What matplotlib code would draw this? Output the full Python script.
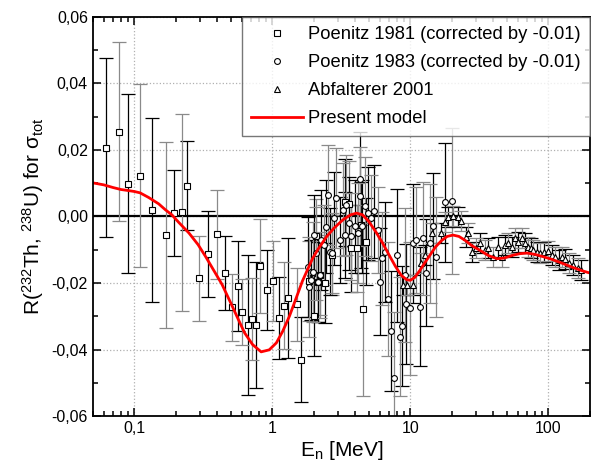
import numpy as np
import matplotlib.pyplot as plt
from matplotlib.ticker import FuncFormatter, LogLocator, MultipleLocator, NullFormatter

plt.rcParams['font.family'] = ['Liberation Sans', 'DejaVu Sans']
plt.rcParams['mathtext.fontset'] = 'custom'
plt.rcParams['mathtext.rm'] = 'Liberation Sans'
plt.rcParams['mathtext.it'] = 'Liberation Sans:italic'

# Poenitz 1981 (squares)
p81_e = [0.062, 0.077, 0.090, 0.110, 0.134, 0.170, 0.194, 0.220, 0.241, 0.293,
         0.344, 0.396, 0.452, 0.509, 0.563, 0.605, 0.665, 0.707, 0.765, 0.814,
         0.915, 1.01, 1.12, 1.22, 1.31, 1.52, 1.61, 1.86, 2.01, 2.08,
         2.13, 2.20, 2.39, 2.73, 3.34, 3.58, 3.73, 4.13, 4.37, 4.54, 4.74]
p81_r = [0.0207, 0.0255, 0.0099, 0.0123, 0.0019, -0.0056, 0.0010, 0.0013, 0.0092, -0.0186,
         -0.0113, -0.0054, -0.0170, -0.0273, -0.0208, -0.0287, -0.0326, -0.0309, -0.0326, -0.0149,
         -0.0220, -0.0193, -0.0306, -0.0268, -0.0245, -0.0264, -0.0431, -0.0193, -0.0300, -0.0059,
         -0.0196, -0.0176, -0.0199, -0.0116, 0.0042, 0.0038, -0.0096, -0.0096, -0.0026, -0.0279, -0.0076]
p81_err = [0.027, 0.027, 0.027, 0.0275, 0.0277, 0.028, 0.013, 0.0296, 0.0134, 0.0127,
           0.013, 0.0135, 0.011, 0.010, 0.0135, 0.010, 0.021, 0.0123, 0.019, 0.014,
           0.012, 0.012, 0.0123, 0.013, 0.018, 0.011, 0.0128, 0.012, 0.012, 0.011,
           0.012, 0.012, 0.012, 0.012, 0.013, 0.013, 0.013, 0.013, 0.013, 0.026, 0.013]

# Poenitz 1983 (circles)
p83_e = [1.81, 1.84, 1.91, 1.96, 2.02, 2.08, 2.14, 2.20, 2.26, 2.35,
         2.46, 2.55, 2.60, 2.72, 2.80, 2.90, 3.07, 3.25, 3.34, 3.43,
         3.57, 3.73, 3.97, 4.17, 4.29, 4.35, 4.46, 4.67, 4.95, 5.23,
         5.42, 5.83, 6.00, 6.27, 6.53, 6.89, 7.29, 7.62, 8.00, 8.40,
         8.77, 9.12, 9.38, 9.90, 10.45, 11.0, 11.7, 12.3, 13.0, 13.8,
         14.6, 15.4, 17.8, 20.1]
p83_r = [-0.0151, -0.0211, -0.0191, -0.0166, -0.0056, -0.0111, -0.0196, -0.0176, -0.0071, -0.0086,
         -0.0031, 0.0065, -0.0106, -0.0111, -0.0005, 0.0055, -0.0071, 0.0020, -0.0056, 0.0035,
         -0.0020, -0.0060, -0.0030, -0.0050, 0.0113, 0.0060, -0.0030, 0.0030, 0.0010, -0.0005,
         0.0015, -0.0040, -0.0196, -0.0126, -0.0106, -0.0248, -0.0344, -0.0487, -0.0116, -0.0361,
         -0.0329, -0.0176, -0.0263, -0.0276, -0.0081, -0.0071, -0.0271, -0.0066, -0.0169, -0.0081,
         -0.0029, -0.0121, 0.0042, 0.0047]
p83_err = [0.015, 0.015, 0.012, 0.015, 0.012, 0.014, 0.012, 0.013, 0.015, 0.012,
           0.014, 0.015, 0.013, 0.012, 0.014, 0.015, 0.013, 0.014, 0.013, 0.015,
           0.014, 0.013, 0.014, 0.015, 0.014, 0.015, 0.014, 0.015, 0.014, 0.013,
           0.014, 0.013, 0.016, 0.014, 0.015, 0.017, 0.018, 0.020, 0.020, 0.018,
           0.018, 0.020, 0.018, 0.020, 0.018, 0.016, 0.018, 0.017, 0.016, 0.018,
           0.016, 0.018, 0.018, 0.022]

# Abfalterer 2001 (triangles)
a01_e = [8.8, 9.4, 10.4, 12.0, 12.7, 14.4, 16.6, 17.8, 18.9, 20.4,
         22.2, 23.5, 25.2, 26.3, 27.9, 30.0, 32.0, 35.0, 36.8, 40.0,
         43.0, 46.0, 48.6, 51.4, 54.5, 57.6, 60.8, 64.4, 68.0, 71.8,
         75.0, 78.0, 82.5, 87.4, 93.0, 100, 106, 112, 119, 126,
         132, 142, 152, 163, 172]
a01_r = [-0.0206, -0.0206, -0.0206, -0.0141, -0.0116, -0.0050, -0.0050, -0.0016, -0.0001, 0.0002,
         -0.0001, -0.0013, -0.0061, -0.0049, -0.0106, -0.0095, -0.0081, -0.0101, -0.0096, -0.0121,
         -0.0091, -0.0121, -0.0086, -0.0081, -0.0091, -0.0066, -0.0076, -0.0064, -0.0081, -0.0091,
         -0.0095, -0.0101, -0.0106, -0.0111, -0.0108, -0.0103, -0.0116, -0.0121, -0.0131, -0.0121,
         -0.0129, -0.0141, -0.0146, -0.0156, -0.0161]
a01_err = [0.0030] * len(a01_e)

# Present model
model_e = [0.05, 0.06, 0.07, 0.08, 0.09, 0.10, 0.11, 0.127, 0.15, 0.168,
           0.187, 0.21, 0.249, 0.29, 0.329, 0.38, 0.433, 0.514, 0.575, 0.63,
           0.719, 0.83, 0.95, 1.07, 1.19, 1.33, 1.49, 1.65, 1.80, 1.96,
           2.15, 2.46, 2.8, 3.25, 3.7, 4.08, 4.5, 5.0, 5.6, 6.3,
           7.0, 7.8, 8.6, 9.4, 10.0, 10.8, 11.7, 12.8, 13.8, 15.2,
           16.8, 18.5, 20.4, 22.5, 25.0, 28.0, 32.0, 37.0, 42.6, 48.0,
           55.0, 62.0, 70.0, 80.0, 92.0, 108.0, 125.0, 150.0, 175.0, 200.0]
model_r = [0.0101, 0.0095, 0.0087, 0.0081, 0.0078, 0.0075, 0.0071, 0.0057, 0.0038, 0.0020,
           0.0005, -0.0018, -0.0050, -0.0085, -0.0121, -0.0165, -0.0205, -0.0271, -0.0315, -0.0350,
           -0.0385, -0.0407, -0.0401, -0.0380, -0.0345, -0.0300, -0.0245, -0.0195, -0.0160, -0.0126,
           -0.0098, -0.0062, -0.0035, -0.0010, 0.0005, 0.0010, 0.0005, -0.0015, -0.0045, -0.0080,
           -0.0115, -0.0150, -0.0177, -0.0190, -0.0192, -0.0183, -0.0163, -0.0138, -0.0118, -0.0092,
           -0.0073, -0.0060, -0.0056, -0.0060, -0.0072, -0.0088, -0.0102, -0.0118, -0.0127, -0.0125,
           -0.0117, -0.0112, -0.0110, -0.0114, -0.0121, -0.0130, -0.0140, -0.0153, -0.0163, -0.0170]

fig = plt.figure(figsize=(5.91, 4.68), dpi=100)
ax = fig.add_axes([0.157, 0.111, 0.841, 0.853])
ax.set_axisbelow(True)


def draw_set(e, r, err, marker, label):
    e = np.array(e)
    r = np.array(r)
    err = np.array(err)
    # alternate dark and grey bars, as in the original export
    for k, col in ((0, 'black'), (1, '#8a8a8a')):
        ax.errorbar(e[k::2], r[k::2], yerr=err[k::2], fmt='none', ecolor=col,
                    elinewidth=0.9, capsize=5, capthick=0.9, zorder=2)
    ax.plot(e, r, linestyle='none', marker=marker, markersize=4.2,
            markerfacecolor='white', markeredgecolor='black', markeredgewidth=0.8,
            zorder=3, label=label)


ax.axhline(0, color='black', lw=1.6, zorder=1)
draw_set(p81_e, p81_r, p81_err, 's', 'Poenitz 1981 (corrected by -0.01)')
draw_set(p83_e, p83_r, p83_err, 'o', 'Poenitz 1983 (corrected by -0.01)')
draw_set(a01_e, a01_r, a01_err, '^', 'Abfalterer 2001')
ax.plot(model_e, model_r, color='#ff0000', lw=2, zorder=4, label='Present model')

ax.set_xscale('log')
ax.set_xlim(0.05, 200)
ax.set_ylim(-0.06, 0.06)

ax.xaxis.set_major_locator(LogLocator(base=10, numticks=10))
ax.xaxis.set_minor_locator(LogLocator(base=10, subs=np.arange(2, 10), numticks=20))
ax.xaxis.set_minor_formatter(NullFormatter())
ax.xaxis.set_major_formatter(FuncFormatter(lambda v, p: ('%g' % v).replace('.', ',')))
ax.yaxis.set_major_locator(MultipleLocator(0.02))
ax.yaxis.set_minor_locator(MultipleLocator(0.01))
ax.yaxis.set_major_formatter(FuncFormatter(lambda v, p: ('%.2f' % (0 if abs(v) < 1e-9 else v)).replace('.', ',')))

ax.tick_params(which='both', direction='in', top=True, right=True, labelsize=11.5, width=1.1)
ax.tick_params(which='major', length=6)
ax.tick_params(which='minor', length=3.5)
for s in ax.spines.values():
    s.set_linewidth(1.3)
    s.set_zorder(5)

ax.grid(True, which='major', color='#b0b0b0', linestyle=':', linewidth=0.9)

ax.set_xlabel(r'E$_{\mathrm{n}}$ [MeV]', fontsize=15, labelpad=2)
ax.set_ylabel(r'R($^{232}$Th, $^{238}$U) for σ$_{\mathrm{tot}}$', fontsize=15, labelpad=4)

leg = ax.legend(loc='upper right', fontsize=13.2, frameon=True, fancybox=False,
                edgecolor='#555555', borderaxespad=0, handlelength=2.8,
                labelspacing=0.6, borderpad=0.5, handletextpad=0.3, numpoints=1)
leg.get_frame().set_linewidth(1.0)
leg.set_zorder(6)

fig.savefig('out.png', dpi=100)
